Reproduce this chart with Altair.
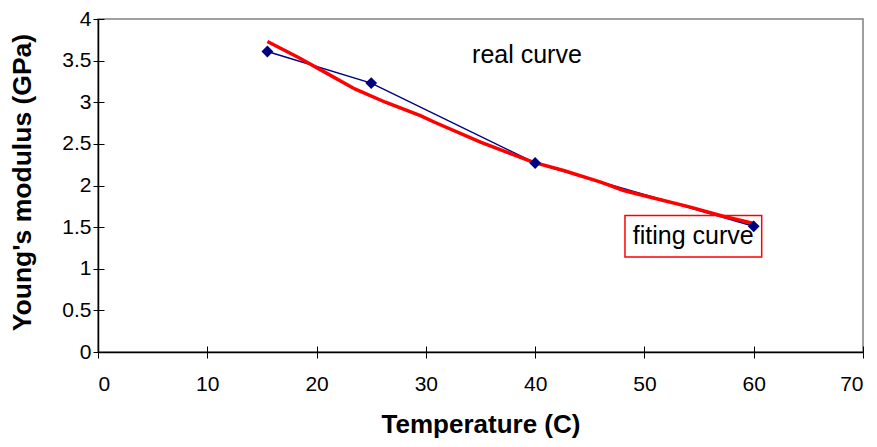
import altair as alt
import pandas as pd

# Real curve (measured points)
real_t = [15.5, 25, 40, 60]
real_E = [3.61, 3.23, 2.27, 1.51]

# Fitting curve
fit_t = [15.5, 18.3, 20.5, 23.5, 26.3, 29.5, 30.8, 35.0, 39.8, 42.6, 46.0, 48.1, 51.1, 54.2, 57.2, 60.1]
fit_E = [3.73, 3.54, 3.38, 3.16, 3.00, 2.84, 2.76, 2.52, 2.28, 2.18, 2.04, 1.94, 1.84, 1.74, 1.63, 1.54]

# Annotations
label_text = ["real curve", "fiting curve"]
label_t = [39.25, 54.47]
label_E = [3.47, 1.30]
box_t = [48.22]
box_t2 = [60.73]
box_E = [1.64]
box_E2 = [1.14]

real_df = pd.DataFrame({"t": real_t, "E": real_E})
fit_df = pd.DataFrame({"t": fit_t, "E": fit_E})
lab_df = pd.DataFrame({"t": label_t, "E": label_E, "label": label_text})
box_df = pd.DataFrame({"t": box_t, "t2": box_t2, "E": box_E, "E2": box_E2})

FONT = "Liberation Sans"
xs = alt.Scale(domain=[0, 70], nice=False, zero=False)
ys = alt.Scale(domain=[0, 4], nice=False, zero=False)
xvals = [0, 10, 20, 30, 40, 50, 60, 70]
yvals = [0, 0.5, 1, 1.5, 2, 2.5, 3, 3.5, 4]

x_main = alt.X("t:Q", scale=xs, axis=alt.Axis(
    values=xvals, title="Temperature (C)", grid=False, format="d",
    domainColor="black", domainWidth=1.5, tickColor="black", tickWidth=1,
    tickSize=6, labelPadding=15, labelFontSize=21, labelFont=FONT, labelColor="black",
    titleFont=FONT, titleFontSize=26, titleFontWeight="bold", titleColor="black",
    titleY=59, titleX=382.5))
y_main = alt.Y("E:Q", scale=ys, axis=alt.Axis(
    values=yvals, title="Young's modulus (GPa)", grid=False, format="~r",
    domainColor="black", domainWidth=1.5, tickColor="black", tickWidth=1,
    tickSize=5, labelPadding=2, labelFontSize=21, labelFont=FONT, labelColor="black",
    titleFont=FONT, titleFontSize=26.5, titleFontWeight="bold", titleColor="black",
    titleX=-62, titleY=163))

x_in = alt.X("t:Q", scale=xs, axis=alt.Axis(
    orient="bottom", values=xvals, offset=-6, domain=False, labels=False,
    tickColor="black", tickWidth=1, tickSize=6, grid=False, title=None))
y_in = alt.Y("E:Q", scale=ys, axis=alt.Axis(
    orient="left", values=yvals, offset=-6, domain=False, labels=False,
    tickColor="black", tickWidth=1, tickSize=6, grid=False, title=None))

x_none = alt.X("t:Q", scale=xs, axis=None)
y_none = alt.Y("E:Q", scale=ys, axis=None)

real_line = alt.Chart(real_df).mark_line(color="#000080", strokeWidth=1.5).encode(x=x_main, y=y_main)
fit_line = alt.Chart(fit_df).mark_line(color="#FF0000", strokeWidth=3.5).encode(x=x_in, y=y_in)
real_pts = alt.Chart(real_df).mark_point(shape="diamond", filled=True, size=140, color="#000080", opacity=1).encode(x=x_none, y=y_none)
box = alt.Chart(box_df).mark_rect(fillOpacity=0, stroke="#FF0000", strokeWidth=1.5).encode(
    x=x_none, x2="t2:Q", y=y_none, y2="E2:Q")
labels = alt.Chart(lab_df).mark_text(font=FONT, fontSize=25, color="black", align="center", baseline="alphabetic").encode(
    x=x_none, y=y_none, text="label:N")

chart = alt.layer(real_line, fit_line, real_pts, box, labels).resolve_axis(
    x="independent", y="independent"
).properties(
    width=765, height=333,
    autosize=alt.AutoSizeParams(type="none"),
    padding={"left": 90, "top": 11, "right": 6, "bottom": 87},
    background="white",
).configure_view(stroke="#808080", strokeWidth=1.5)

chart.save("out.html", embed_options={"renderer": "svg", "actions": False})
